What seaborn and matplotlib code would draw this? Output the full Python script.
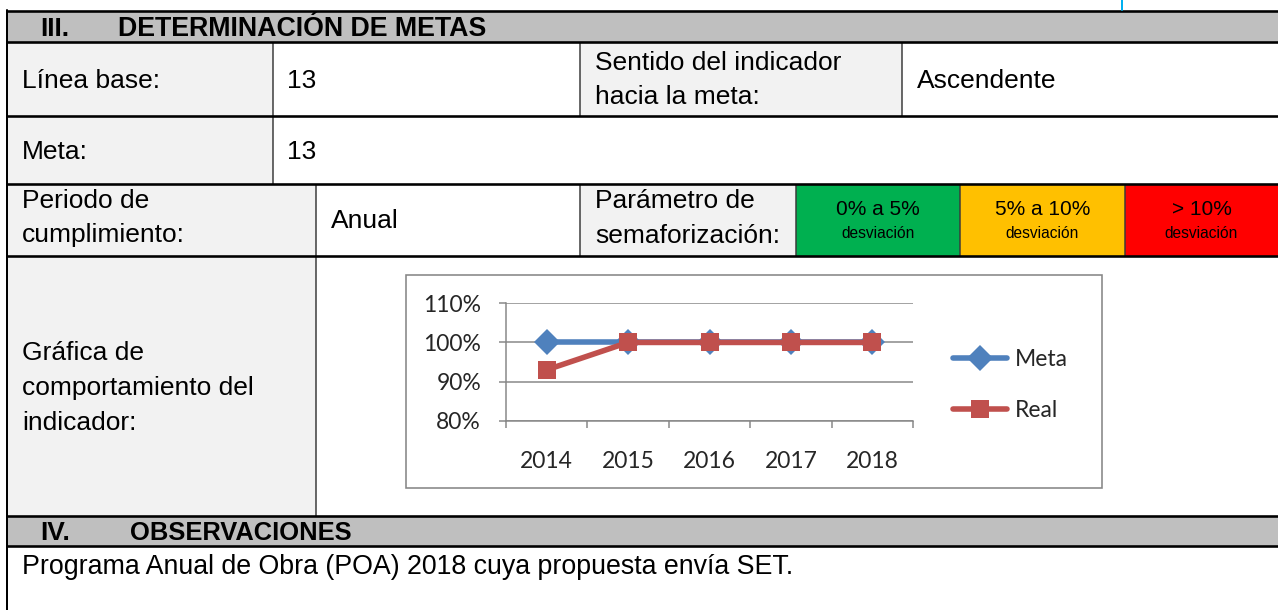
"""Recreate the 'Determinación de metas' indicator sheet with its small line chart."""

import matplotlib

matplotlib.use("Agg")

import matplotlib.pyplot as plt
import pandas as pd
import seaborn as sns
from matplotlib.patches import Rectangle
from matplotlib.ticker import FixedLocator, PercentFormatter

# ---- data -------------------------------------------------------------
years = ["2014", "2015", "2016", "2017", "2018"]
meta = [1.00, 1.00, 1.00, 1.00, 1.00]
real = [0.93, 1.00, 1.00, 1.00, 1.00]
series_names = ["Meta", "Real"]
y_ticks = [0.8, 0.9, 1.0, 1.1]

linea_base = "13"
meta_valor = "13"
sentido = "Ascendente"
periodo = "Anual"
semaforo_labels = ["0% a 5%", "5% a 10%", "> 10%"]
semaforo_sub = "desviación"
observacion = "Programa Anual de Obra (POA) 2018 cuya propuesta envía SET."

# ---- styling ----------------------------------------------------------
W, H = 1278, 610
GRAY_HEAD = "#BFBFBF"
GRAY_CELL = "#F2F2F2"
SEM_COLORS = ["#00B050", "#FFC000", "#FF0000"]
COLORS = {"Meta": "#4F81BD", "Real": "#C0504D"}
AXIS_GRAY = "#868686"
BODY = "Liberation Sans"
FS = 19

sns.set_theme(style="white")
plt.rcParams["font.family"] = ["Lato", "DejaVu Sans"]

fig = plt.figure(figsize=(W / 100, H / 100), dpi=100)
bg = fig.add_axes([0, 0, 1, 1])
bg.set_xlim(0, W)
bg.set_ylim(H, 0)
bg.axis("off")


def px(v):
    return v * 0.72


def fill(x0, y0, x1, y1, color):
    bg.add_patch(Rectangle((x0, y0), x1 - x0, y1 - y0, facecolor=color, edgecolor="none", zorder=1))


def label(x, y, s, size=FS, weight="normal", ha="left"):
    bg.text(x, y, s, fontsize=size, fontweight=weight, family=BODY, ha=ha, va="baseline", color="black", zorder=5)


# cell fills
fill(7, 11, W, 42, GRAY_HEAD)
fill(7, 42, 273, 116, GRAY_CELL)
fill(580, 42, 902, 116, GRAY_CELL)
fill(7, 116, 273, 184, GRAY_CELL)
fill(7, 184, 316, 256, GRAY_CELL)
fill(580, 184, 796, 256, GRAY_CELL)
for (x0, x1), c in zip([(796, 960), (960, 1125), (1125, W)], SEM_COLORS):
    fill(x0, 184, x1, 256, c)
fill(7, 256, 316, 516, GRAY_CELL)
fill(7, 516, W, 546, GRAY_HEAD)

# grid lines of the table
for y in [11, 42, 116, 184, 256, 516, 546]:
    bg.plot([7, W], [y, y], color="black", lw=px(2.6), solid_capstyle="butt", zorder=3)
bg.plot([7, 7], [10, H], color="black", lw=px(2), zorder=3)
for x, y0, y1 in [(273, 42, 184), (580, 42, 116), (902, 42, 116), (316, 184, 516),
                  (580, 184, 256), (796, 184, 256), (960, 184, 256), (1125, 184, 256)]:
    bg.plot([x, x], [y0, y1], color="#3A3A3A", lw=px(1.5), solid_capstyle="butt", zorder=2)
bg.plot([1122, 1122], [0, 10], color="#00B0F0", lw=px(2), zorder=3)

# table texts
label(40, 36.5, "III.", weight="bold")
label(118, 36.5, "DETERMINACIÓN DE METAS", weight="bold", size=19.3)
label(22, 88.5, "Línea base:")
label(287, 88.5, linea_base)
label(595, 69.5, "Sentido del indicador")
label(595, 103.5, "hacia la meta:")
label(917, 88.5, sentido)
label(22, 159, "Meta:")
label(287, 159, meta_valor)
label(22, 208, "Periodo de")
label(22, 242, "cumplimiento:")
label(331, 228, periodo)
label(595, 208, "Parámetro de")
label(595, 243, "semaforización:")
for (x0, x1), s in zip([(796, 960), (960, 1125), (1125, W)], semaforo_labels):
    label((x0 + x1) / 2, 215, s, size=15, ha="center")
    label((x0 + x1) / 2, 238, semaforo_sub, size=11.2, ha="center")
label(22, 359.5, "Gráfica de")
label(22, 394.5, "comportamiento del")
label(22, 429.5, "indicador:")
label(40, 540.5, "IV.", weight="bold")
label(130, 540.5, "OBSERVACIONES", weight="bold", size=18.4)
label(22, 574.5, observacion, size=19.3)

# chart frame
bg.add_patch(Rectangle((406, 275), 1102 - 406, 488 - 275, facecolor="white",
                       edgecolor=AXIS_GRAY, lw=px(1.6), zorder=2))

# ---- chart ------------------------------------------------------------
ax = fig.add_axes([506 / W, 1 - 420.7 / H, (913 - 506) / W, (420.7 - 303.3) / H])
ax.patch.set_alpha(0)

df = pd.DataFrame({
    "Año": years * 2,
    "Valor": meta + real,
    "Serie": [series_names[0]] * len(years) + [series_names[1]] * len(years),
})

sns.lineplot(
    data=df, x="Año", y="Valor", hue="Serie", style="Serie",
    markers={"Meta": "D", "Real": "s"}, dashes=False, palette=COLORS,
    linewidth=4, markersize=13, markeredgewidth=0, sort=False, ax=ax,
)

ax.set_xlim(-0.5, len(years) - 0.5)
ax.set_ylim(y_ticks[0], y_ticks[-1])
ax.set_xlabel("")
ax.set_ylabel("")

ax.yaxis.set_major_locator(FixedLocator(y_ticks))
ax.yaxis.set_major_formatter(PercentFormatter(1.0, decimals=0))
ax.xaxis.set_major_locator(FixedLocator([i - 0.5 for i in range(len(years) + 1)]))
ax.xaxis.set_minor_locator(FixedLocator(list(range(len(years)))))
ax.set_xticklabels([])
ax.set_xticklabels(years, minor=True)

ax.yaxis.grid(True, color=AXIS_GRAY, lw=px(1.5))
ax.set_axisbelow(True)
for side in ["top", "right"]:
    ax.spines[side].set_visible(False)
for side in ["left", "bottom"]:
    ax.spines[side].set_color(AXIS_GRAY)
    ax.spines[side].set_linewidth(px(1.5))

ax.tick_params(axis="y", which="major", direction="out", length=5, width=px(1.5),
               color=AXIS_GRAY, labelsize=16.5, pad=13, left=True)
ax.tick_params(axis="x", which="major", direction="out", length=5, width=px(1.5),
               color=AXIS_GRAY, bottom=True)
ax.tick_params(axis="x", which="minor", length=0, labelsize=16.5, pad=22, bottom=True)

sns.move_legend(
    ax, "center left", bbox_to_anchor=(953 / W, 1 - 385 / H), bbox_transform=fig.transFigure,
    title=None, frameon=False, fontsize=16.5, handlelength=2.35, handletextpad=0.35,
    labelspacing=1.3, borderpad=0, borderaxespad=0,
)

fig.savefig("out.png", dpi=100)
